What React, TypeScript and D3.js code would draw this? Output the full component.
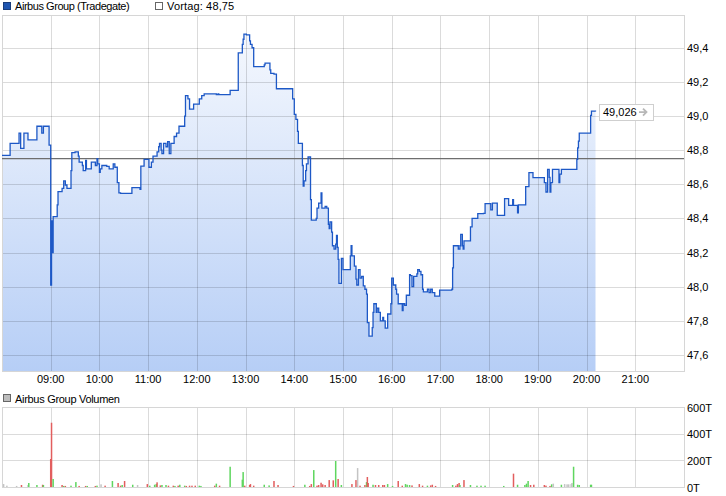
import React from 'react';
import * as d3 from 'd3';

// ---------- data ----------
const seriesName = 'Airbus Group (Tradegate)';
const previousClose = 48.75;
const lastPrice = 49.026;
const volumeName = 'Airbus Group Volumen';

const hourLabels = ['09:00', '10:00', '11:00', '12:00', '13:00', '14:00', '15:00', '16:00', '17:00', '18:00', '19:00', '20:00', '21:00'];
const priceTicks = [47.6, 47.8, 48.0, 48.2, 48.4, 48.6, 48.8, 49.0, 49.2, 49.4];
const volumeTicks = [0, 200, 400, 600];

const pricePoints: [string, number][] = [
  ['08:00', 48.77], ['08:10', 48.84], ['08:21', 48.9], ['08:23', 48.81], ['08:27', 48.9], ['08:32', 48.86],
  ['08:43', 48.94], ['08:49', 48.9], ['08:51', 48.94], ['08:58', 48.83], ['09:00', 48.01], ['09:01', 48.385],
  ['09:02', 48.2], ['09:03', 48.41], ['09:08', 48.48], ['09:09', 48.557], ['09:14', 48.576], ['09:16', 48.62],
  ['09:18', 48.596], ['09:20', 48.576], ['09:25', 48.68], ['09:26', 48.785], ['09:30', 48.79], ['09:34', 48.765],
  ['09:35', 48.73], ['09:39', 48.71], ['09:40', 48.68], ['09:43', 48.74], ['09:44', 48.69], ['09:50', 48.73],
  ['09:55', 48.71], ['09:57', 48.75], ['09:58', 48.72], ['10:00', 48.67], ['10:01', 48.69], ['10:03', 48.71],
  ['10:09', 48.705], ['10:12', 48.69], ['10:17', 48.72], ['10:19', 48.7], ['10:22', 48.61], ['10:24', 48.55],
  ['10:26', 48.547], ['10:40', 48.58], ['10:50', 48.57], ['10:51', 48.707], ['10:55', 48.746], ['11:01', 48.7],
  ['11:04', 48.73], ['11:06', 48.765], ['11:11', 48.79], ['11:13', 48.82], ['11:14', 48.84], ['11:16', 48.8],
  ['11:17', 48.78], ['11:19', 48.84], ['11:22', 48.82], ['11:24', 48.85], ['11:26', 48.78], ['11:28', 48.84],
  ['11:32', 48.88], ['11:35', 48.9], ['11:38', 48.94], ['11:45', 49.0], ['11:46', 49.12], ['11:49', 49.1],
  ['11:51', 49.04], ['11:56', 49.07], ['12:03', 49.1], ['12:06', 49.12], ['12:09', 49.13], ['12:24', 49.125],
  ['12:26', 49.13], ['12:27', 49.125], ['12:41', 49.15], ['12:51', 49.37], ['12:56', 49.42], ['12:57', 49.45],
  ['12:58', 49.48], ['13:01', 49.475], ['13:05', 49.44], ['13:06', 49.42], ['13:08', 49.4], ['13:10', 49.29],
  ['13:23', 49.3], ['13:24', 49.31], ['13:30', 49.27], ['13:31', 49.25], ['13:35', 49.245], ['13:38', 49.16],
  ['13:58', 49.1], ['14:00', 49.01], ['14:02', 48.98], ['14:04', 48.91], ['14:05', 48.84], ['14:10', 48.71],
  ['14:11', 48.59], ['14:12', 48.62], ['14:14', 48.68], ['14:15', 48.72], ['14:17', 48.76], ['14:20', 48.51],
  ['14:21', 48.39], ['14:27', 48.4], ['14:28', 48.46], ['14:30', 48.49], ['14:33', 48.55], ['14:34', 48.46],
  ['14:38', 48.47], ['14:40', 48.46], ['14:42', 48.365], ['14:43', 48.34], ['14:44', 48.38], ['14:46', 48.32],
  ['14:47', 48.24], ['14:49', 48.22], ['14:51', 48.25], ['14:52', 48.3], ['14:53', 48.23], ['14:54', 48.16],
  ['14:55', 48.02], ['14:58', 48.166], ['15:00', 48.1], ['15:09', 48.18], ['15:10', 48.24], ['15:11', 48.18],
  ['15:14', 48.12], ['15:16', 48.044], ['15:17', 48.01], ['15:19', 48.1], ['15:21', 48.05], ['15:23', 48.06],
  ['15:25', 48.005], ['15:27', 47.985], ['15:29', 47.956], ['15:30', 47.79], ['15:32', 47.71], ['15:36', 47.76],
  ['15:37', 47.85], ['15:38', 47.9], ['15:41', 47.85], ['15:42', 47.875], ['15:44', 47.85], ['15:46', 47.8],
  ['15:49', 47.82], ['15:50', 47.8], ['15:52', 47.757], ['15:55', 47.84], ['15:59', 47.9], ['16:00', 48.05],
  ['16:02', 48.01], ['16:05', 47.985], ['16:06', 47.956], ['16:08', 47.9], ['16:13', 47.86], ['16:14', 47.9],
  ['16:16', 47.89], ['16:18', 47.95], ['16:22', 48.07], ['16:23', 48.065], ['16:25', 48.0], ['16:27', 48.06],
  ['16:31', 48.075], ['16:32', 48.1], ['16:34', 48.09], ['16:36', 48.07], ['16:38', 47.985], ['16:39', 47.97],
  ['16:44', 47.985], ['16:46', 47.965], ['16:48', 47.985], ['16:50', 47.965], ['16:53', 47.945], ['16:59', 47.98],
  ['17:14', 47.985], ['17:15', 48.11], ['17:16', 48.24], ['17:22', 48.22], ['17:24', 48.24], ['17:25', 48.307],
  ['17:27', 48.24], ['17:28', 48.22], ['17:29', 48.268], ['17:37', 48.35], ['17:39', 48.4], ['17:46', 48.428],
  ['17:53', 48.43], ['17:55', 48.487], ['18:02', 48.45], ['18:04', 48.49], ['18:10', 48.418], ['18:19', 48.516],
  ['18:24', 48.477], ['18:29', 48.51], ['18:30', 48.477], ['18:35', 48.433], ['18:36', 48.48], ['18:45', 48.586],
  ['18:49', 48.668], ['18:54', 48.639], ['19:08', 48.61], ['19:10', 48.555], ['19:12', 48.687], ['19:14', 48.64],
  ['19:15', 48.555], ['19:16', 48.61], ['19:18', 48.687], ['19:26', 48.61], ['19:27', 48.66], ['19:29', 48.687],
  ['19:48', 48.746], ['19:49', 48.814], ['19:50', 48.853], ['19:51', 48.9], ['20:05', 49.004], ['20:06', 49.029],
  ['20:11', 49.026],
];

// volume in thousands; direction: u = up (green), d = down (red), n = unchanged (grey)
const volumePoints: [string, number, string][] = [
  ['08:02', 22, 'n'], ['08:06', 10, 'n'], ['08:18', 8, 'n'], ['08:24', 15, 'd'], ['08:32', 15, 'n'], ['08:33', 30, 'u'],
  ['08:43', 15, 'u'], ['08:50', 17, 'd'], ['08:51', 15, 'u'], ['09:00', 210, 'd'], ['09:01', 482, 'd'], ['09:03', 60, 'u'],
  ['09:14', 15, 'd'], ['09:16', 8, 'u'], ['09:18', 8, 'd'], ['09:25', 10, 'u'], ['09:31', 37, 'u'], ['09:35', 8, 'd'],
  ['09:43', 8, 'd'], ['09:45', 8, 'u'], ['09:55', 8, 'd'], ['09:57', 10, 'u'], ['10:02', 20, 'n'], ['10:07', 10, 'd'],
  ['10:16', 45, 'u'], ['10:23', 30, 'd'], ['10:26', 10, 'd'], ['10:28', 15, 'u'], ['10:31', 45, 'd'], ['10:41', 17, 'u'],
  ['10:47', 15, 'n'], ['10:59', 22, 'd'], ['11:02', 10, 'u'], ['11:08', 17, 'u'], ['11:10', 22, 'u'], ['11:11', 35, 'd'],
  ['11:15', 12, 'd'], ['11:17', 15, 'u'], ['11:22', 15, 'u'], ['11:25', 10, 'd'], ['11:31', 10, 'd'], ['11:33', 8, 'u'],
  ['11:37', 10, 'd'], ['11:39', 17, 'u'], ['11:45', 10, 'u'], ['11:47', 8, 'd'], ['11:51', 10, 'd'], ['11:54', 10, 'd'],
  ['11:58', 10, 'd'], ['12:03', 10, 'u'], ['12:05', 8, 'u'], ['12:22', 10, 'd'], ['12:24', 25, 'u'], ['12:28', 10, 'd'],
  ['12:41', 152, 'u'], ['12:56', 55, 'u'], ['12:57', 112, 'u'], ['12:59', 10, 'd'], ['13:05', 15, 'd'], ['13:06', 22, 'd'],
  ['13:10', 10, 'd'], ['13:23', 17, 'u'], ['13:29', 12, 'u'], ['13:35', 45, 'd'], ['13:40', 15, 'd'], ['13:59', 8, 'd'],
  ['14:13', 17, 'u'], ['14:19', 8, 'd'], ['14:21', 22, 'd'], ['14:24', 127, 'u'], ['14:28', 10, 'd'], ['14:30', 15, 'd'],
  ['14:33', 32, 'd'], ['14:35', 20, 'd'], ['14:38', 15, 'd'], ['14:43', 52, 'd'], ['14:48', 50, 'd'], ['14:51', 195, 'u'],
  ['14:54', 60, 'd'], ['14:58', 15, 'u'], ['15:11', 22, 'd'], ['15:16', 52, 'd'], ['15:18', 142, 'n'], ['15:21', 10, 'd'],
  ['15:27', 15, 'd'], ['15:29', 37, 'u'], ['15:30', 75, 'd'], ['15:31', 30, 'd'], ['15:37', 17, 'u'], ['15:40', 15, 'd'],
  ['15:44', 15, 'd'], ['15:49', 15, 'd'], ['15:51', 15, 'd'], ['15:55', 22, 'u'], ['16:01', 8, 'u'], ['16:08', 45, 'd'],
  ['16:13', 10, 'd'], ['16:17', 22, 'u'], ['16:19', 17, 'u'], ['16:22', 15, 'u'], ['16:25', 12, 'd'], ['16:34', 22, 'd'],
  ['16:38', 10, 'd'], ['16:44', 10, 'u'], ['16:48', 12, 'd'], ['16:50', 17, 'd'], ['16:54', 8, 'd'], ['17:15', 15, 'u'],
  ['17:19', 10, 'd'], ['17:21', 22, 'd'], ['17:23', 30, 'd'], ['17:24', 15, 'u'], ['17:29', 52, 'd'], ['17:37', 15, 'u'],
  ['17:45', 10, 'u'], ['17:50', 10, 'u'], ['17:55', 10, 'u'], ['18:18', 8, 'u'], ['18:30', 100, 'd'], ['18:35', 17, 'u'],
  ['18:44', 15, 'u'], ['18:46', 25, 'u'], ['18:48', 45, 'u'], ['18:51', 15, 'd'], ['18:55', 17, 'd'], ['19:08', 15, 'd'],
  ['19:10', 10, 'd'], ['19:15', 8, 'd'], ['19:17', 20, 'u'], ['19:19', 25, 'n'], ['19:29', 17, 'u'], ['19:33', 22, 'n'],
  ['19:36', 20, 'n'], ['19:38', 20, 'n'], ['19:41', 22, 'n'], ['19:42', 30, 'n'], ['19:44', 152, 'u'], ['19:49', 17, 'u'],
  ['19:51', 15, 'u'], ['20:05', 17, 'u'], ['20:06', 17, 'u'],
];

// ---------- layout / style ----------
const W = 726;
const H = 496;
const FONT = "'Liberation Sans', Arial, sans-serif";
const parse = d3.timeParse('%H:%M');
const deLocale = d3.formatLocale({ decimal: ',', thousands: '.', grouping: [3], currency: ['', ' €'] });
const fmt1 = deLocale.format('.1f');
const fmt3 = deLocale.format('.3f');

const volColor: Record<string, string> = { u: '#5fd65f', d: '#e25e5e', n: '#c4c4c4' };

export default function App() {
  const L = 2, R = 684;
  const top = 15, bottom = 371;
  const vTop = 407, vBottom = 487;

  const x = d3.scaleTime().domain([parse('08:00')!, parse('22:00')!]).range([L, R]);
  const y = d3.scaleLinear().domain([47.506, 49.592]).range([bottom, top]);
  const yv = d3.scaleLinear().domain([0, 600]).range([vBottom, vTop]);

  const data = pricePoints.map(([t, v]) => ({ t: parse(t)!, v }));
  const vols = volumePoints.map(([t, v, d]) => ({ t: parse(t)!, v, d }));

  const line = d3.line<{ t: Date; v: number }>().x((d) => x(d.t)).y((d) => y(d.v)).curve(d3.curveStepAfter);
  const area = d3
    .area<{ t: Date; v: number }>()
    .x((d) => x(d.t))
    .y0(bottom)
    .y1((d) => y(d.v))
    .curve(d3.curveStepAfter);

  const px = (v: number) => Math.round(v) + 0.5;
  const gridStroke = 'rgba(0,0,0,0.14)';

  const lastY = y(lastPrice);
  const lastX = x(data[data.length - 1].t);
  const boxX = lastX + 3.5;

  return (
    <svg width={W} height={H} style={{ position: 'absolute', left: 0, top: 0, background: '#fff' }} fontFamily={FONT}>
      <defs>
        <linearGradient id="fillGrad" gradientUnits="userSpaceOnUse" x1="0" y1={top} x2="0" y2={bottom}>
          <stop offset="0%" stopColor="#f8fafe" />
          <stop offset="100%" stopColor="#b6cef6" />
        </linearGradient>
      </defs>

      {/* legend */}
      <rect x={3.5} y={2.5} width={7} height={7} fill="#1f55b0" stroke="#1a3c7a" />
      <text x={15} y={10} fontSize={11} fill="#000" letterSpacing={-0.45}>{seriesName}</text>
      <rect x={155.5} y={2.5} width={7} height={7} fill="#fff" stroke="#666" />
      <text x={167} y={10} fontSize={11} fill="#000" letterSpacing={0.15}>{'Vortag: ' + fmt3(previousClose).replace(/0$/, '')}</text>

      {/* price area + line */}
      <path d={area(data) || ''} fill="url(#fillGrad)" />

      {/* grid */}
      {priceTicks.map((v) => (
        <line key={'gy' + v} x1={L} x2={R} y1={px(y(v))} y2={px(y(v))} stroke={gridStroke} />
      ))}
      {hourLabels.map((h) => (
        <line key={'gx' + h} x1={px(x(parse(h)!))} x2={px(x(parse(h)!))} y1={top} y2={bottom} stroke={gridStroke} />
      ))}
      <rect x={L + 0.5} y={top + 0.5} width={R - L} height={bottom - top} fill="none" stroke="#d6d6d6" />

      {/* previous close */}
      <line x1={L} x2={R} y1={y(previousClose)} y2={y(previousClose)} stroke="#6e6e6e" strokeWidth={1.3} />

      <path d={line(data) || ''} fill="none" stroke="#1d58c6" strokeWidth={1.3} />

      {/* last price label */}
      <rect x={px(boxX)} y={px(lastY - 8)} width={54} height={16} fill="#fff" stroke="#cfcfcf" />
      <text x={boxX + 4} y={lastY + 4.5} fontSize={11} fill="#000">{fmt3(lastPrice)}</text>
      <path
        d={`M${boxX + 40},${lastY + 0.5} h7 M${boxX + 44},${lastY - 3} l3.5,3.5 l-3.5,3.5`}
        fill="none"
        stroke="#b8b8b8"
        strokeWidth={1.8}
      />

      {/* axes labels */}
      {hourLabels.map((h) => (
        <text key={'xl' + h} x={x(parse(h)!)} y={383} fontSize={11} textAnchor="middle" fill="#000">{h}</text>
      ))}
      {priceTicks.map((v) => (
        <text key={'yl' + v} x={687} y={y(v) + 4} fontSize={11} fill="#000">{fmt1(v)}</text>
      ))}

      {/* volume panel */}
      <rect x={3.5} y={394.5} width={7} height={7} fill="#bdbdbd" stroke="#666" />
      <text x={15} y={402.5} fontSize={11} fill="#000" letterSpacing={-0.3}>{volumeName}</text>

      {volumeTicks.filter((v) => v > 0 && v < 600).map((v) => (
        <line key={'vgy' + v} x1={L} x2={R} y1={px(yv(v))} y2={px(yv(v))} stroke={gridStroke} />
      ))}
      {hourLabels.map((h) => (
        <line key={'vgx' + h} x1={px(x(parse(h)!))} x2={px(x(parse(h)!))} y1={vTop} y2={vBottom} stroke={gridStroke} />
      ))}
      <rect x={L + 0.5} y={vTop + 0.5} width={R - L} height={vBottom - vTop} fill="none" stroke="#d6d6d6" />

      {vols.map((d, i) => (
        <rect
          key={'vb' + i}
          x={x(d.t) - 0.75}
          y={yv(d.v)}
          width={1.5}
          height={vBottom - yv(d.v)}
          fill={volColor[d.d]}
        />
      ))}

      {volumeTicks.map((v) => (
        <text key={'vl' + v} x={687} y={yv(v) + 4.5} fontSize={11} fill="#000">{v + 'T'}</text>
      ))}
    </svg>
  );
}
